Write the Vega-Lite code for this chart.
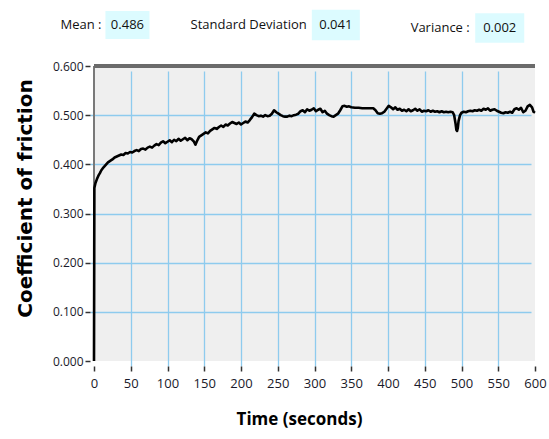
{
  "$schema": "https://vega.github.io/schema/vega-lite/v6.json",
  "autosize": {"type": "none"},
  "width": 441,
  "height": 295,
  "padding": {"left": 94, "top": 66, "right": 14, "bottom": 78},
  "background": "white",
  "config": {
    "view": {"fill": "#efefef", "stroke": null},
    "axis": {
      "grid": true,
      "gridColor": "#8ecbee",
      "gridWidth": 1.3,
      "domain": false,
      "tickColor": "#333333",
      "tickSize": 5,
      "tickWidth": 1.5,
      "labelFont": "Open Sans",
      "labelColor": "#1a1a2a",
      "labelFlush": false,
      "titleColor": "#000000"
    },
    "axisX": {
      "values": [0, 50, 100, 150, 200, 250, 300, 350, 400, 450, 500, 550, 600],
      "tickCount": 13,
      "offset": 5,
      "labelFontSize": 13,
      "labelPadding": 6,
      "gridOpacity": {"condition": {"test": "datum.value === 0 || datum.value === 600", "value": 0}, "value": 1}
    },
    "axisY": {
      "values": [0, 0.1, 0.2, 0.3, 0.4, 0.5, 0.6],
      "tickCount": 7,
      "format": ".3f",
      "offset": 4,
      "labelFontSize": 12,
      "labelPadding": 2,
      "gridOpacity": {"condition": {"test": "datum.value === 0 || datum.value === 0.6", "value": 0}, "value": 1}
    }
  },
  "layer": [
    {
      "data": {
        "values": [
          {"time": 0, "cof": 0.0}, {"time": 0.5, "cof": 0.352}, {"time": 2, "cof": 0.362}, {"time": 4, "cof": 0.37},
          {"time": 6, "cof": 0.377}, {"time": 8, "cof": 0.382}, {"time": 10, "cof": 0.388}, {"time": 13, "cof": 0.394},
          {"time": 16, "cof": 0.399}, {"time": 19, "cof": 0.404}, {"time": 22, "cof": 0.407}, {"time": 25, "cof": 0.41},
          {"time": 28, "cof": 0.414}, {"time": 31, "cof": 0.416}, {"time": 34, "cof": 0.418}, {"time": 37, "cof": 0.42},
          {"time": 40, "cof": 0.419}, {"time": 43, "cof": 0.423}, {"time": 46, "cof": 0.422}, {"time": 49, "cof": 0.425},
          {"time": 52, "cof": 0.424}, {"time": 55, "cof": 0.427}, {"time": 58, "cof": 0.429}, {"time": 61, "cof": 0.427},
          {"time": 64, "cof": 0.431}, {"time": 67, "cof": 0.432}, {"time": 70, "cof": 0.43}, {"time": 73, "cof": 0.434},
          {"time": 76, "cof": 0.436}, {"time": 79, "cof": 0.434}, {"time": 82, "cof": 0.438}, {"time": 85, "cof": 0.441},
          {"time": 88, "cof": 0.439}, {"time": 91, "cof": 0.444}, {"time": 94, "cof": 0.447}, {"time": 97, "cof": 0.443},
          {"time": 100, "cof": 0.446}, {"time": 103, "cof": 0.449}, {"time": 106, "cof": 0.445}, {"time": 109, "cof": 0.45},
          {"time": 112, "cof": 0.447}, {"time": 115, "cof": 0.452}, {"time": 118, "cof": 0.448}, {"time": 121, "cof": 0.451},
          {"time": 124, "cof": 0.454}, {"time": 127, "cof": 0.449}, {"time": 130, "cof": 0.453}, {"time": 133, "cof": 0.451},
          {"time": 136, "cof": 0.446}, {"time": 138, "cof": 0.44}, {"time": 140, "cof": 0.447}, {"time": 143, "cof": 0.456},
          {"time": 146, "cof": 0.459}, {"time": 149, "cof": 0.462}, {"time": 152, "cof": 0.465}, {"time": 155, "cof": 0.463},
          {"time": 158, "cof": 0.468}, {"time": 161, "cof": 0.471}, {"time": 164, "cof": 0.474}, {"time": 167, "cof": 0.472},
          {"time": 170, "cof": 0.476}, {"time": 173, "cof": 0.479}, {"time": 176, "cof": 0.476}, {"time": 179, "cof": 0.481},
          {"time": 182, "cof": 0.479}, {"time": 185, "cof": 0.483}, {"time": 188, "cof": 0.486}, {"time": 191, "cof": 0.484},
          {"time": 194, "cof": 0.482}, {"time": 197, "cof": 0.485}, {"time": 200, "cof": 0.481}, {"time": 203, "cof": 0.484},
          {"time": 206, "cof": 0.487}, {"time": 209, "cof": 0.485}, {"time": 212, "cof": 0.49}, {"time": 215, "cof": 0.496},
          {"time": 218, "cof": 0.503}, {"time": 221, "cof": 0.5}, {"time": 224, "cof": 0.498}, {"time": 227, "cof": 0.499},
          {"time": 230, "cof": 0.497}, {"time": 233, "cof": 0.5}, {"time": 236, "cof": 0.498}, {"time": 239, "cof": 0.499},
          {"time": 242, "cof": 0.503}, {"time": 245, "cof": 0.51}, {"time": 248, "cof": 0.506}, {"time": 251, "cof": 0.503},
          {"time": 254, "cof": 0.5}, {"time": 257, "cof": 0.498}, {"time": 260, "cof": 0.497}, {"time": 263, "cof": 0.497},
          {"time": 266, "cof": 0.499}, {"time": 269, "cof": 0.498}, {"time": 272, "cof": 0.5}, {"time": 275, "cof": 0.501},
          {"time": 278, "cof": 0.503}, {"time": 281, "cof": 0.508}, {"time": 284, "cof": 0.51}, {"time": 287, "cof": 0.506},
          {"time": 290, "cof": 0.512}, {"time": 293, "cof": 0.509}, {"time": 296, "cof": 0.511}, {"time": 299, "cof": 0.514},
          {"time": 302, "cof": 0.508}, {"time": 305, "cof": 0.511}, {"time": 308, "cof": 0.513}, {"time": 311, "cof": 0.506},
          {"time": 314, "cof": 0.509}, {"time": 317, "cof": 0.503}, {"time": 320, "cof": 0.5}, {"time": 323, "cof": 0.498},
          {"time": 326, "cof": 0.497}, {"time": 329, "cof": 0.5}, {"time": 332, "cof": 0.503}, {"time": 335, "cof": 0.51},
          {"time": 338, "cof": 0.518}, {"time": 341, "cof": 0.519}, {"time": 344, "cof": 0.517}, {"time": 347, "cof": 0.518},
          {"time": 350, "cof": 0.516}, {"time": 355, "cof": 0.515}, {"time": 360, "cof": 0.515}, {"time": 365, "cof": 0.514},
          {"time": 370, "cof": 0.514}, {"time": 375, "cof": 0.514}, {"time": 380, "cof": 0.514}, {"time": 383, "cof": 0.51},
          {"time": 386, "cof": 0.504}, {"time": 389, "cof": 0.503}, {"time": 392, "cof": 0.504}, {"time": 395, "cof": 0.507},
          {"time": 398, "cof": 0.513}, {"time": 401, "cof": 0.519}, {"time": 404, "cof": 0.516}, {"time": 407, "cof": 0.512},
          {"time": 410, "cof": 0.516}, {"time": 413, "cof": 0.511}, {"time": 416, "cof": 0.513}, {"time": 419, "cof": 0.509},
          {"time": 422, "cof": 0.511}, {"time": 425, "cof": 0.508}, {"time": 428, "cof": 0.512}, {"time": 431, "cof": 0.508},
          {"time": 434, "cof": 0.51}, {"time": 437, "cof": 0.513}, {"time": 440, "cof": 0.509}, {"time": 443, "cof": 0.512},
          {"time": 446, "cof": 0.507}, {"time": 449, "cof": 0.509}, {"time": 452, "cof": 0.508}, {"time": 455, "cof": 0.51},
          {"time": 458, "cof": 0.507}, {"time": 461, "cof": 0.509}, {"time": 464, "cof": 0.507}, {"time": 467, "cof": 0.508},
          {"time": 470, "cof": 0.506}, {"time": 473, "cof": 0.508}, {"time": 476, "cof": 0.506}, {"time": 479, "cof": 0.507},
          {"time": 482, "cof": 0.506}, {"time": 485, "cof": 0.507}, {"time": 488, "cof": 0.506}, {"time": 490, "cof": 0.5},
          {"time": 492, "cof": 0.482}, {"time": 493, "cof": 0.47}, {"time": 494, "cof": 0.468}, {"time": 495, "cof": 0.474},
          {"time": 496, "cof": 0.488}, {"time": 498, "cof": 0.5}, {"time": 500, "cof": 0.505}, {"time": 503, "cof": 0.507},
          {"time": 506, "cof": 0.506}, {"time": 509, "cof": 0.508}, {"time": 512, "cof": 0.509}, {"time": 515, "cof": 0.508},
          {"time": 518, "cof": 0.51}, {"time": 521, "cof": 0.509}, {"time": 524, "cof": 0.511}, {"time": 527, "cof": 0.509},
          {"time": 530, "cof": 0.513}, {"time": 533, "cof": 0.511}, {"time": 536, "cof": 0.514}, {"time": 539, "cof": 0.509},
          {"time": 542, "cof": 0.511}, {"time": 545, "cof": 0.512}, {"time": 548, "cof": 0.509}, {"time": 551, "cof": 0.507},
          {"time": 554, "cof": 0.505}, {"time": 557, "cof": 0.504}, {"time": 560, "cof": 0.506}, {"time": 563, "cof": 0.505},
          {"time": 566, "cof": 0.507}, {"time": 569, "cof": 0.505}, {"time": 572, "cof": 0.512}, {"time": 575, "cof": 0.514},
          {"time": 578, "cof": 0.511}, {"time": 581, "cof": 0.515}, {"time": 584, "cof": 0.506}, {"time": 587, "cof": 0.509},
          {"time": 590, "cof": 0.518}, {"time": 593, "cof": 0.521}, {"time": 596, "cof": 0.516}, {"time": 598, "cof": 0.507},
          {"time": 600, "cof": 0.505}
        ]
      },
      "encoding": {
        "x": {
          "field": "time",
          "type": "quantitative",
          "scale": {"domain": [0, 600], "nice": false},
          "axis": {
            "values": [0, 50, 100, 150, 200, 250, 300, 350, 400, 450, 500, 550, 600],
            "title": "Time (seconds)",
            "titleFont": "Open Sans",
            "titleFontSize": 17,
            "titleFontWeight": "bold",
            "titleX": 205,
            "titlePadding": 21
          }
        },
        "y": {
          "field": "cof",
          "type": "quantitative",
          "scale": {"domain": [0, 0.6], "nice": false},
          "axis": {
            "values": [0, 0.1, 0.2, 0.3, 0.4, 0.5, 0.6],
            "title": "Coefficient of friction",
            "titleFont": "DejaVu Sans",
            "titleFontSize": 20,
            "titleFontWeight": "bold",
            "titleY": 132,
            "titlePadding": 17
          }
        }
      },
      "layer": [
        {"mark": {"type": "rule", "color": "#7a7a7a", "strokeWidth": 1.5}, "encoding": {"x": {"datum": 0}, "y": null}},
        {"mark": {"type": "rule", "color": "#6b6b6b", "strokeWidth": 3}, "encoding": {"y": {"datum": 0.6}, "x": null}},
        {"mark": {"type": "line", "color": "#000000", "strokeWidth": 2.6, "strokeJoin": "round"}}
      ]
    },
    {
      "data": {"values": [{"stat": "Mean :", "value": "0.486"}]},
      "encoding": {"x": {"datum": 45.5}, "y": {"datum": 0.6}},
      "layer": [
        {"mark": {"type": "point", "shape": "M-1,-0.64H1V0.64H-1Z", "size": 1936, "filled": true, "color": "#dcfbff", "opacity": 1, "yOffset": -41}},
        {"mark": {"type": "text", "align": "right", "baseline": "middle", "dx": -26, "yOffset": -41, "font": "Open Sans", "fontSize": 13, "color": "#111111"}, "encoding": {"text": {"field": "stat"}}},
        {"mark": {"type": "text", "align": "center", "baseline": "middle", "yOffset": -41, "font": "Open Sans", "fontSize": 13, "color": "#111111"}, "encoding": {"text": {"field": "value"}}}
      ]
    },
    {
      "data": {"values": [{"stat": "Standard Deviation", "value": "0.041"}]},
      "encoding": {"x": {"datum": 329}, "y": {"datum": 0.6}},
      "layer": [
        {"mark": {"type": "point", "shape": "M-1,-0.64H1V0.64H-1Z", "size": 2304, "filled": true, "color": "#dcfbff", "opacity": 1, "yOffset": -41}},
        {"mark": {"type": "text", "align": "right", "baseline": "middle", "dx": -29, "yOffset": -41, "font": "Open Sans", "fontSize": 13, "color": "#111111"}, "encoding": {"text": {"field": "stat"}}},
        {"mark": {"type": "text", "align": "center", "baseline": "middle", "yOffset": -41, "font": "Open Sans", "fontSize": 13, "color": "#111111"}, "encoding": {"text": {"field": "value"}}}
      ]
    },
    {
      "data": {"values": [{"stat": "Variance :", "value": "0.002"}]},
      "encoding": {"x": {"datum": 552}, "y": {"datum": 0.6}},
      "layer": [
        {"mark": {"type": "point", "shape": "M-1,-0.6H1V0.6H-1Z", "size": 2401, "filled": true, "color": "#dcfbff", "opacity": 1, "yOffset": -38}},
        {"mark": {"type": "text", "align": "right", "baseline": "middle", "dx": -30, "yOffset": -38, "font": "Open Sans", "fontSize": 13, "color": "#111111"}, "encoding": {"text": {"field": "stat"}}},
        {"mark": {"type": "text", "align": "center", "baseline": "middle", "yOffset": -38, "font": "Open Sans", "fontSize": 13, "color": "#111111"}, "encoding": {"text": {"field": "value"}}}
      ]
    }
  ]
}
